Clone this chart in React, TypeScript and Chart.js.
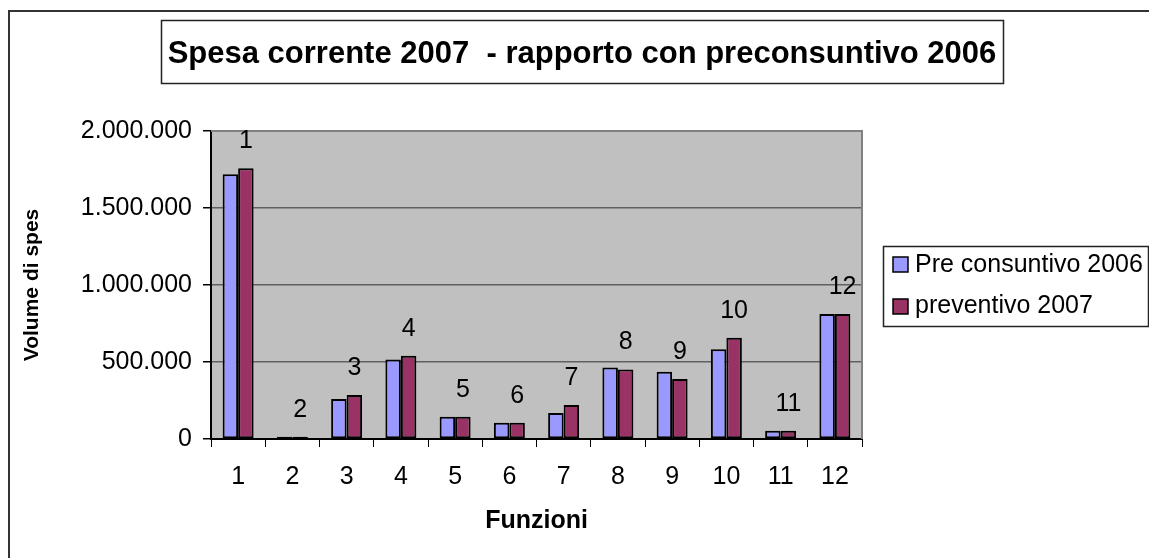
import React, { useEffect, useRef } from 'react';
import { Chart, registerables } from 'chart.js';

Chart.register(...registerables);

const FONT = '"Liberation Sans", Arial, sans-serif';

const categories = ['1', '2', '3', '4', '5', '6', '7', '8', '9', '10', '11', '12'];
const preConsuntivo2006 = [1719000, 15000, 260000, 517000, 145000, 106000, 169000, 465000, 437000, 582000, 54000, 812000];
const preventivo2007 = [1758000, 15000, 286000, 541000, 145000, 106000, 220000, 452000, 390000, 658000, 54000, 812000];
const yTicks = [0, 500000, 1000000, 1500000, 2000000];
const seriesNames = ['Pre consuntivo 2006', 'preventivo 2007'];
const seriesColors = ['#9999FF', '#993366'];
const titleText = 'Spesa corrente 2007  - rapporto con preconsuntivo 2006';
const xTitle = 'Funzioni';
const yTitle = 'Volume di spes';

const fmt = (v: number) => String(Math.round(v)).replace(/\B(?=(\d{3})+(?!\d))/g, '.');

const decor = {
  id: 'decor',
  beforeDraw(chart: any) {
    const { ctx, chartArea: a, width, height } = chart;
    ctx.save();
    ctx.fillStyle = '#fff';
    ctx.fillRect(0, 0, width, height);
    // outer frame
    ctx.strokeStyle = '#333';
    ctx.lineWidth = 2;
    ctx.beginPath();
    ctx.moveTo(1, height + 5);
    ctx.lineTo(1, 3);
    ctx.lineTo(width + 5, 3);
    ctx.stroke();
    // title box
    ctx.lineWidth = 1.5;
    ctx.strokeStyle = '#222';
    ctx.strokeRect(153.5, 12.5, 842, 63);
    ctx.fillStyle = '#000';
    ctx.font = `bold 31px ${FONT}`;
    ctx.textAlign = 'center';
    ctx.textBaseline = 'alphabetic';
    ctx.fillText(titleText, 574, 55);
    // plot background
    ctx.fillStyle = '#C0C0C0';
    ctx.fillRect(a.left, a.top, a.right - a.left, a.bottom - a.top);
    // legend
    ctx.lineWidth = 1.5;
    ctx.strokeStyle = '#222';
    ctx.strokeRect(875.5, 238.5, 265, 80);
    const rows = [
      { sq: 249, base: 264 },
      { sq: 291, base: 305 },
    ];
    ctx.font = `25px ${FONT}`;
    ctx.textAlign = 'left';
    rows.forEach((r, i) => {
      ctx.fillStyle = seriesColors[i];
      ctx.fillRect(885, r.sq, 15, 15);
      ctx.strokeStyle = '#000';
      ctx.lineWidth = 1.5;
      ctx.strokeRect(885, r.sq, 15, 15);
      ctx.fillStyle = '#000';
      ctx.fillText(seriesNames[i], 907, r.base);
    });
    ctx.restore();
  },
  afterDatasetsDraw(chart: any) {
    const { ctx, chartArea: a } = chart;
    ctx.save();
    ctx.strokeStyle = '#808080';
    ctx.lineWidth = 2;
    ctx.beginPath();
    ctx.moveTo(a.left, a.top);
    ctx.lineTo(a.right, a.top);
    ctx.lineTo(a.right, a.bottom);
    ctx.stroke();
    const meta = chart.getDatasetMeta(1);
    ctx.fillStyle = '#000';
    ctx.font = `25px ${FONT}`;
    ctx.textAlign = 'center';
    ctx.textBaseline = 'alphabetic';
    meta.data.forEach((el: any, i: number) => {
      ctx.fillText(categories[i], el.x, el.y - 20);
    });
    ctx.restore();
  },
};

export default function App() {
  const ref = useRef<HTMLCanvasElement>(null);
  useEffect(() => {
    Chart.defaults.font.family = FONT;
    const chart = new Chart(ref.current as HTMLCanvasElement, {
      type: 'bar',
      data: {
        labels: categories,
        datasets: [
          {
            label: seriesNames[0],
            data: preConsuntivo2006,
            backgroundColor: seriesColors[0],
            borderColor: '#000',
            borderWidth: 2,
            borderSkipped: false,
            categoryPercentage: 0.571,
            barPercentage: 1,
          },
          {
            label: seriesNames[1],
            data: preventivo2007,
            backgroundColor: seriesColors[1],
            borderColor: '#000',
            borderWidth: 2,
            borderSkipped: false,
            categoryPercentage: 0.571,
            barPercentage: 1,
          },
        ],
      },
      options: {
        responsive: false,
        animation: false,
        events: [],
        layout: { padding: { left: 0, top: 123, right: 287, bottom: 0 } },
        plugins: {
          legend: { display: false },
          title: { display: false },
          tooltip: { enabled: false },
        },
        scales: {
          x: {
            offset: true,
            afterFit: (s: any) => {
              s.height = 119;
            },
            grid: {
              offset: true,
              drawOnChartArea: false,
              drawTicks: true,
              tickLength: 8,
              tickColor: '#000',
              color: '#000',
            },
            border: { color: '#000', width: 2 },
            ticks: {
              font: { family: FONT, size: 25 },
              color: '#000',
              padding: 15,
              maxRotation: 0,
              autoSkip: false,
            },
            title: {
              display: true,
              text: xTitle,
              font: { family: FONT, size: 25, weight: 'bold' },
              color: '#000',
              padding: { top: 0, bottom: 22 },
            },
          },
          y: {
            min: 0,
            max: 2000000,
            afterFit: (s: any) => {
              s.width = 203;
            },
            afterBuildTicks: (s: any) => {
              s.ticks = yTicks.map((v) => ({ value: v }));
            },
            ticks: {
              callback: (v: any) => fmt(Number(v)),
              font: { family: FONT, size: 25 },
              color: '#000',
              padding: 11,
            },
            grid: {
              color: '#606060',
              lineWidth: 1.5,
              tickColor: '#000',
              tickLength: 8,
              drawTicks: true,
            },
            border: { color: '#000', width: 2 },
            title: {
              display: true,
              text: yTitle,
              font: { family: FONT, size: 21, weight: 'bold' },
              color: '#000',
              padding: { top: 12, bottom: 0 },
            },
          },
        },
      },
      plugins: [decor],
    } as any);
    return () => chart.destroy();
  }, []);
  return (
    <div style={{ position: 'fixed', left: 8, top: 8, width: 1141, height: 550 }}>
      <canvas ref={ref} width={1141} height={550} style={{ display: 'block' }} />
    </div>
  );
}
